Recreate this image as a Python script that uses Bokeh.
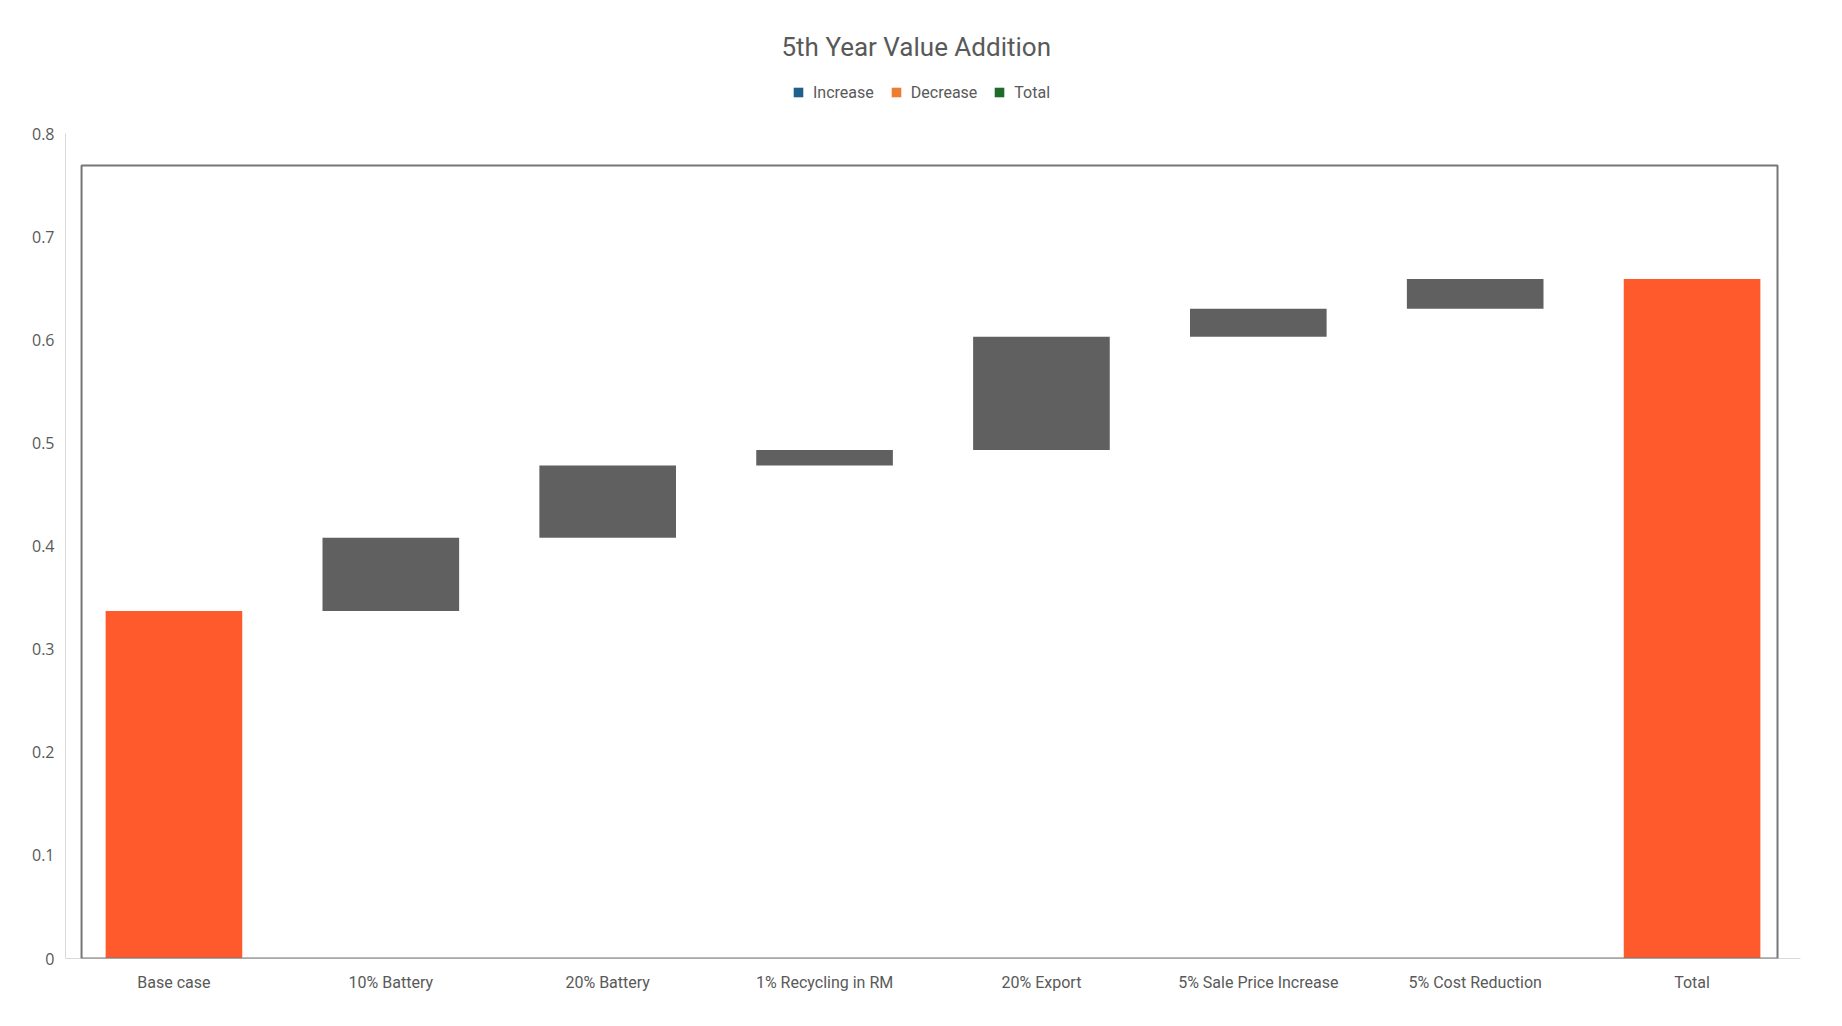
from bokeh.plotting import figure
from bokeh.models import (FactorRange, Range1d, BoxAnnotation, Legend, LegendItem,
                          ColumnDataSource, Title, FixedTicker, NumeralTickFormatter)
from bokeh.embed import file_html
from bokeh.resources import INLINE

# ---------------- data ----------------
categories = ["Base case", "10% Battery", "20% Battery", "1% Recycling in RM",
              "20% Export", "5% Sale Price Increase", "5% Cost Reduction", "Total"]
step_values = [0.337, 0.071, 0.070, 0.015, 0.110, 0.027, 0.029]
y_ticks = [0, 0.1, 0.2, 0.3, 0.4, 0.5, 0.6, 0.7, 0.8]
legend_labels = ["Increase", "Decrease", "Total"]
legend_colors = ["#1F5F8B", "#ED7D31", "#1E6B2A"]

title_text = "5th Year Value Addition"

ORANGE = "#FF5A2C"
GRAY = "#606060"
TEXT = "#595959"
FONT = "Roboto"

# -------------- waterfall geometry from data --------------
bottoms, tops, colors = [], [], []
running = 0.0
for i, v in enumerate(step_values):
    if i == 0:
        bottoms.append(0.0)
        tops.append(v)
        colors.append(ORANGE)
    else:
        bottoms.append(running)
        tops.append(running + v)
        colors.append(GRAY)
    running += v
bottoms.append(0.0)
tops.append(running)
colors.append(ORANGE)

src = ColumnDataSource(dict(x=categories, bottom=bottoms, top=tops, color=colors))

# layout: frame spans y=70..958 px; 0.8 must sit at y=133 px
FRAME_TOP, FRAME_BOTTOM, TICK_TOP_PX = 70, 958, 133
y_max = max(y_ticks) * (FRAME_BOTTOM - FRAME_TOP) / (FRAME_BOTTOM - TICK_TOP_PX)

p = figure(width=1826, height=1010,
           x_range=FactorRange(factors=categories, range_padding=0),
           y_range=Range1d(0, y_max),
           output_backend="svg", toolbar_location=None,
           min_border_left=65, min_border_right=26,
           min_border_top=FRAME_TOP, min_border_bottom=1010 - FRAME_BOTTOM)

p.title = Title(text=title_text, align="left", text_font_size="26px",
                text_font_style="normal", text_color=TEXT, text_font=FONT,
                offset=716, standoff=18)

p.vbar(x="x", bottom="bottom", top="top", width=0.63, source=src,
       fill_color="color", line_color=None)

# plot-area border of the original chart (decorative)
p.add_layout(BoxAnnotation(left=0.074, right=7.894, bottom=0, top=0.769,
                           fill_color=None, line_color="#767676", line_alpha=1.0,
                           line_width=2))

# legend (dummy renderers holding one invisible row so the swatch gets its colour)
items = []
for lab, col in zip(legend_labels, legend_colors):
    r = p.vbar(x=[categories[0]], bottom=[float("nan")], top=[float("nan")],
               width=0.5, fill_color=col, line_color=None)
    items.append(LegendItem(label=lab, renderers=[r]))
legend = Legend(items=items, orientation="horizontal",
                location=(727, FRAME_BOTTOM - 102),
                padding=0, margin=0, spacing=16, label_standoff=9,
                glyph_width=12, glyph_height=12, label_height=20,
                label_text_font=FONT, label_text_font_size="16px",
                label_text_color=TEXT, border_line_color=None,
                background_fill_alpha=0)
p.add_layout(legend, "center")

# axes
p.xgrid.grid_line_color = None
p.ygrid.grid_line_color = None
p.outline_line_color = None

p.yaxis.ticker = FixedTicker(ticks=y_ticks)
p.yaxis.bounds = (min(y_ticks), max(y_ticks))
p.yaxis.formatter = NumeralTickFormatter(format="0.[0]")
p.yaxis.axis_line_color = "#D9D9D9"
p.yaxis.major_tick_line_color = None
p.yaxis.minor_tick_line_color = None
p.yaxis.major_label_standoff = 5
p.yaxis.major_label_text_font = "Open Sans"
p.yaxis.major_label_text_font_size = "16px"
p.yaxis.major_label_text_color = TEXT

p.xaxis.axis_line_color = "#D9D9D9"
p.xaxis.major_tick_line_color = None
p.xaxis.minor_tick_line_color = None
p.xaxis.major_label_standoff = 8
p.xaxis.major_label_text_font = FONT
p.xaxis.major_label_text_font_size = "16px"
p.xaxis.major_label_text_color = TEXT

open("out.html", "w").write(file_html(p, INLINE))
